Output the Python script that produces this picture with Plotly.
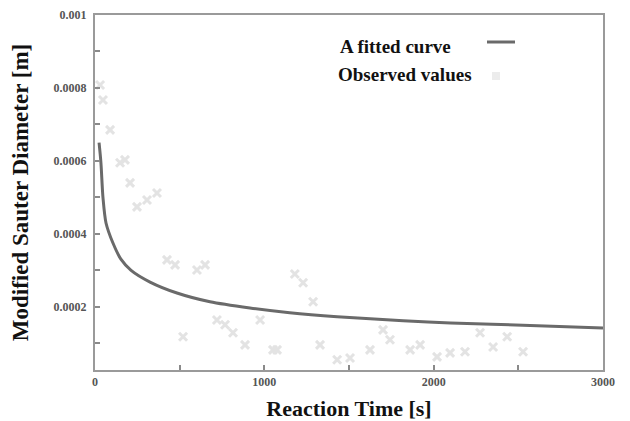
import plotly.graph_objects as go

# Fitted curve
fit_time = [24, 35, 47, 65, 106, 154, 213, 325, 484, 679, 915, 1150, 1430, 1820, 2100, 2570, 3000]
fit_diam = [0.00065, 0.000595, 0.0005, 0.00043, 0.000375, 0.00033, 0.0003, 0.000268, 0.000238,
            0.000214, 0.000197, 0.000184, 0.000173, 0.000162, 0.000156, 0.000149, 0.000142]

obs_time = [30, 47, 89, 148, 177, 207, 248, 307, 366, 425, 473, 602, 650, 520, 720, 768, 815,
            886, 975, 1051, 1075, 1180, 1229, 1288, 1329, 1430, 1506, 1624, 1701, 1742, 1861,
            1920, 2020, 2097, 2185, 2274, 2351, 2434, 2528]
obs_diam = [0.000808, 0.000767, 0.000685, 0.000595, 0.000603, 0.00054, 0.000474, 0.000493,
            0.000512, 0.000329, 0.000315, 0.000301, 0.000315, 0.000118, 0.000164, 0.000151,
            0.000129, 0.000096, 0.000164, 0.000082, 0.000082, 0.00029, 0.000266, 0.000214,
            0.000096, 0.000055, 0.00006, 0.000082, 0.000137, 0.00011, 0.000082, 0.000096,
            0.000063, 0.000074, 0.000077, 0.000129, 0.00009, 0.000118, 0.000077]

x_ticks = [0, 1000, 2000, 3000]
x_tick_text = ["<b>0</b>", "<b>1000</b>", "<b>2000</b>", "<b>3000</b>"]
y_ticks = [0.0002, 0.0004, 0.0006, 0.0008, 0.001]
y_tick_text = ["<b>0.0002</b>", "<b>0.0004</b>", "<b>0.0006</b>", "<b>0.0008</b>", "<b>0.001</b>"]

SERIF = "Liberation Serif"

fig = go.Figure()
fig.add_trace(go.Scatter(
    x=obs_time, y=obs_diam, mode="markers", name="Observed values",
    marker=dict(symbol="x-thin", size=8, line=dict(color="#e3e3e3", width=3), color="#e3e3e3"),
    showlegend=False))
fig.add_trace(go.Scatter(
    x=fit_time, y=fit_diam, mode="lines", name="A fitted curve",
    line=dict(color="#6a6a6a", width=3, shape="spline", smoothing=0.8), showlegend=False))

axis_common = dict(
    showline=True, linecolor="#9a9a9a", linewidth=2, mirror=True,
    ticks="inside", ticklen=5, tickcolor="#8a8a8a", tickwidth=2,
    showgrid=False, zeroline=False, automargin=False,
    tickfont=dict(family=SERIF, size=12, color="#555"),
)

fig.update_xaxes(range=[0, 3000], tickvals=x_ticks, ticktext=x_tick_text,
                 minor=dict(dtick=500, ticks="inside", ticklen=5, tickcolor="#8a8a8a", tickwidth=2),
                 title=dict(text="<b>Reaction Time [s]</b>", font=dict(family=SERIF, size=22, color="#111"),
                            standoff=14),
                 **axis_common)
fig.update_yaxes(range=[0.000027, 0.001], tickvals=y_ticks, ticktext=y_tick_text,
                 ticklabelstandoff=4,
                 minor=dict(dtick=0.0001, tick0=0, ticks="inside", ticklen=5, tickcolor="#8a8a8a", tickwidth=2),
                 title=dict(text="<b>Modified Sauter Diameter [m]</b>", font=dict(family=SERIF, size=23, color="#111"),
                            standoff=24),
                 **axis_common)

# Legend drawn manually (symbols to the right of the labels)
fig.add_annotation(xref="paper", yref="paper", x=(338 - 95) / 508, y=(370 - 46) / 355,
                   xanchor="left", yanchor="middle", showarrow=False,
                   text="<b>A fitted curve</b>", font=dict(family=SERIF, size=19, color="#111"))
fig.add_annotation(xref="paper", yref="paper", x=(336 - 95) / 508, y=(370 - 74) / 355,
                   xanchor="left", yanchor="middle", showarrow=False,
                   text="<b>Observed values</b>", font=dict(family=SERIF, size=19, color="#111"))
fig.add_shape(type="line", xref="paper", yref="paper",
              x0=(487 - 95) / 508, x1=(515 - 95) / 508, y0=(370 - 42) / 355, y1=(370 - 42) / 355,
              line=dict(color="#6a6a6a", width=3))
fig.add_shape(type="rect", xref="paper", yref="paper",
              x0=(492 - 95) / 508, x1=(500 - 95) / 508, y0=(370 - 80) / 355, y1=(370 - 72) / 355,
              line=dict(width=0), fillcolor="#ececec")

# The page body adds an 8 px offset; size and margins compensate so the plot box lands at 95..603 x 15..370
fig.update_layout(
    width=622, height=413,
    margin=dict(l=87, r=27, t=7, b=51),
    paper_bgcolor="white", plot_bgcolor="white",
    font=dict(family=SERIF),
)

fig.write_html("out.html")
